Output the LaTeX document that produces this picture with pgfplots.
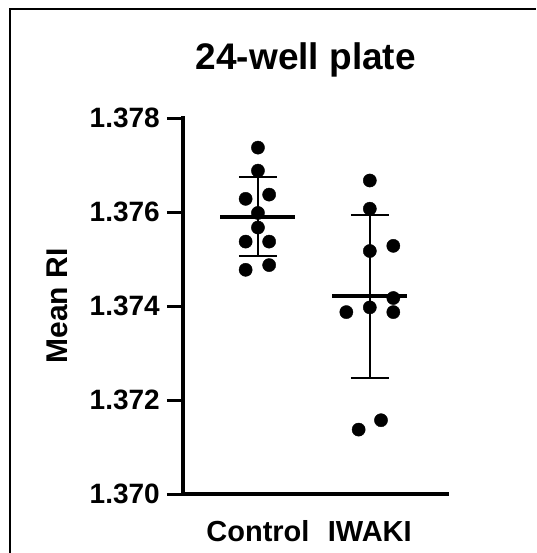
\documentclass[border=0pt]{standalone}
\usepackage{fontspec}
\setmainfont{Liberation Sans}
\usepackage{pgfplots}
\pgfplotsset{compat=1.18}
\begin{document}
\begin{tikzpicture}[x=1pt,y=1pt]
\useasboundingbox (0,0) rectangle (536,553);
\draw[line width=1.5pt] (10,0) -- (10,544) -- (536,544);
\node[anchor=base, font=\bfseries\fontsize{37}{37}\selectfont, inner sep=0pt] at (305.8,483.5) {24-well plate};
\begin{axis}[
  at={(183pt,59pt)}, anchor=south west,
  scale only axis, width=264pt, height=376pt,
  xmin=-0.67, xmax=1.69, ymin=1.370, ymax=1.378,
  axis x line*=bottom, axis y line*=left,
  axis line style={line width=3.3pt, line cap=rect},
  tick align=outside, major tick length=16pt,
  ytick={1.370,1.372,1.374,1.376,1.378},
  yticklabels={1.370,1.372,1.374,1.376,1.378},
  ytick style={line width=3pt, black},
  xtick={0,1}, xticklabels={Control,IWAKI},
  xtick style={draw=none},
  yticklabel style={font=\bfseries\fontsize{28}{28}\selectfont, inner sep=0pt, xshift=-7pt},
  xticklabel style={font=\bfseries\fontsize{29}{29}\selectfont, anchor=base, inner sep=0pt, yshift=-32pt},
  ylabel={Mean RI},
  ylabel style={font=\bfseries\fontsize{30}{30}\selectfont, at={(axis description cs:-0.475,0.5)}, anchor=center},
  clip=false,
]
\addplot[only marks, mark=*, mark size=6.6pt, black] coordinates {
(0,1.37737) (0,1.37688) (-0.11,1.37628) (0.10,1.37637) (0,1.37598)
(0,1.37567) (-0.11,1.37537) (0.10,1.37537) (-0.11,1.37477) (0.10,1.37487)
};
\addplot[only marks, mark=*, mark size=6.6pt, black] coordinates {
(1,1.37667) (1,1.37607) (1.21,1.37528) (1,1.37517) (1.21,1.37417)
(0.79,1.37387) (1,1.37397) (1.21,1.37387) (0.90,1.37137) (1.10,1.37157)
};
% Control mean and SD
\addplot[black, line width=3.7pt] coordinates {(-0.335,1.37590) (0.335,1.37590)};
\addplot[black, line width=2pt] coordinates {(0,1.37506) (0,1.37674)};
\addplot[black, line width=2pt] coordinates {(-0.17,1.37674) (0.17,1.37674)};
\addplot[black, line width=2pt] coordinates {(-0.17,1.37506) (0.17,1.37506)};
% IWAKI mean and SD
\addplot[black, line width=3.7pt] coordinates {(0.665,1.37421) (1.335,1.37421)};
\addplot[black, line width=2pt] coordinates {(1,1.37247) (1,1.37593)};
\addplot[black, line width=2pt] coordinates {(0.83,1.37593) (1.17,1.37593)};
\addplot[black, line width=2pt] coordinates {(0.83,1.37247) (1.17,1.37247)};
\end{axis}
\end{tikzpicture}
\end{document}
